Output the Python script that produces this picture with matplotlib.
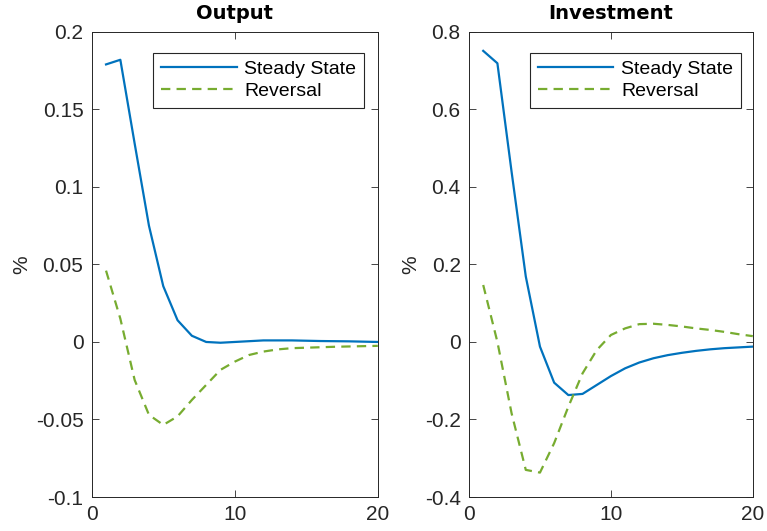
import numpy as np
import matplotlib
matplotlib.use("Agg")
import matplotlib.pyplot as plt

# horizon (quarters)
t = np.arange(1, 21)

# Output responses (%)
output_steady = [0.179, 0.182, 0.128, 0.075, 0.036, 0.014, 0.004, 0.0, -0.0005, 0.0,
                 0.0005, 0.001, 0.001, 0.001, 0.0008, 0.0006, 0.0005, 0.0004, 0.0002, 0.0]
output_reversal = [0.046, 0.015, -0.0245, -0.047, -0.0535, -0.048, -0.0374, -0.0277, -0.018, -0.0127,
                   -0.0084, -0.0062, -0.0048, -0.004, -0.0037, -0.0034, -0.0031, -0.0029, -0.0027, -0.0025]

# Investment responses (%)
invest_steady = [0.751, 0.719, 0.439, 0.169, -0.012, -0.105, -0.137, -0.134, -0.111, -0.088,
                 -0.068, -0.053, -0.042, -0.034, -0.028, -0.023, -0.019, -0.016, -0.014, -0.012]
invest_reversal = [0.147, 0.0, -0.184, -0.330, -0.337, -0.261, -0.167, -0.081, -0.021, 0.018,
                   0.035, 0.046, 0.047, 0.044, 0.040, 0.035, 0.031, 0.026, 0.020, 0.015]

titles = ["Output", "Investment"]
series_labels = ["Steady State", "Reversal"]
ylims = [(-0.1, 0.2), (-0.4, 0.8)]
yticks = [[-0.1, -0.05, 0, 0.05, 0.1, 0.15, 0.2], [-0.4, -0.2, 0, 0.2, 0.4, 0.6, 0.8]]
xticks = [0, 10, 20]

blue = "#0072BD"
green = "#77AC30"
axcol = "#262626"

plt.rcParams["font.family"] = ["Liberation Sans", "DejaVu Sans"]

fig = plt.figure(figsize=(7.67, 5.31), dpi=100)
positions = [[0.1196, 0.064, 0.373, 0.876], [0.6115, 0.064, 0.370, 0.876]]
data = [(output_steady, output_reversal), (invest_steady, invest_reversal)]
leg_x = [0.952, 0.958]

def fmt(v):
    if v == 0:
        return "0"
    return ("%g" % v)

for i in range(2):
    ax = fig.add_axes(positions[i])
    s, r = data[i]
    ax.plot(t, s, color=blue, lw=1.6, label=series_labels[0])
    ax.plot(t, r, color=green, lw=1.6, ls=(0, (4.2, 2.8)), label=series_labels[1])
    ax.set_xlim(0, 20)
    ax.set_ylim(*ylims[i])
    ax.set_xticks(xticks)
    ax.set_yticks(yticks[i])
    ax.set_yticklabels([fmt(v) for v in yticks[i]])
    ax.tick_params(direction="in", length=5, width=0.6, colors=axcol, labelsize=15,
                   top=True, right=True, pad=6)
    for sp in ax.spines.values():
        sp.set_color(axcol)
        sp.set_linewidth(0.7)
    ax.set_title(titles[i], fontsize=14, fontweight="bold", family="DejaVu Sans", pad=9)
    ax.set_ylabel("%", fontsize=15, color=axcol, labelpad=3)
    leg = ax.legend(loc="upper right", bbox_to_anchor=(leg_x[i], 0.9555), borderaxespad=0,
                    fontsize=14, handlelength=3.9, handletextpad=0.4, labelspacing=0.22,
                    borderpad=0.4, fancybox=False, framealpha=1)
    leg.get_frame().set_edgecolor(axcol)
    leg.get_frame().set_linewidth(0.8)

fig.savefig("out.png", dpi=100)
